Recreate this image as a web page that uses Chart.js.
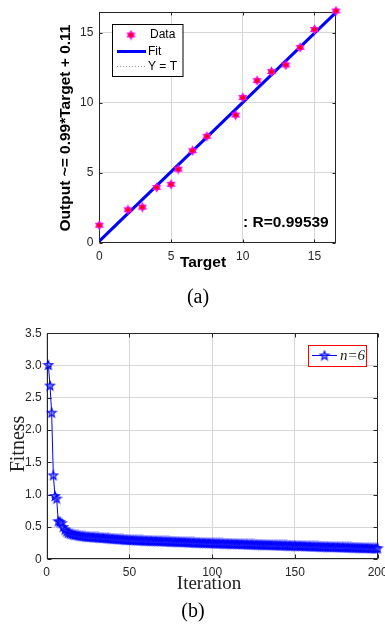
<!DOCTYPE html>
<html><head><meta charset="utf-8">
<script src="https://cdn.jsdelivr.net/npm/chart.js@4"></script>
<style>
html,body{margin:0;padding:0;background:#fff;overflow:hidden;width:385px;height:627px}
#ca{position:absolute;left:0;top:0}
#cb{position:absolute;left:0;top:310px}
</style></head><body>
<canvas id="ca" width="385" height="310"></canvas>
<canvas id="cb" width="420" height="317"></canvas>
<script>
// ---------- data (a) ----------
const targetA = [0, 2, 3, 4, 5, 5.5, 6.5, 7.5, 9.5, 10, 11, 12, 13, 14, 15, 16.5];
const outputA = [1.25, 2.35, 2.54, 3.95, 4.17, 5.25, 6.57, 7.6, 9.12, 10.37, 11.58, 12.22, 12.7, 13.95, 15.23, 16.55];
const fitX = [0, 16.5];
const fitY = [0.11, 16.45];
const identX = [0, 16.5];
const identY = [0, 16.5];
const ticksAX = [0, 5, 10, 15];
const ticksAY = [0, 5, 10, 15];
const legendA = ['Data', 'Fit', 'Y = T'];
const rText = ': R=0.99539';
const yTitleA = 'Output ~= 0.99*Target + 0.11';
const xTitleA = 'Target';

// ---------- data (b) ----------
const fitness = [
3.01,2.69,2.27,1.30,0.98,0.94,0.59,0.58,0.56,0.50,
0.46,0.43,0.41,0.40,0.39,0.385,0.38,0.375,0.37,0.365,
0.36,0.358,0.355,0.352,0.35,0.348,0.346,0.344,0.342,0.340,
0.338,0.336,0.334,0.332,0.330,0.328,0.326,0.324,0.322,0.320,
0.318,0.316,0.314,0.312,0.310,0.308,0.306,0.304,0.302,0.300,
0.299,0.298,0.297,0.296,0.295,0.294,0.293,0.292,0.291,0.290,
0.289,0.288,0.287,0.286,0.285,0.284,0.283,0.282,0.281,0.280,
0.279,0.278,0.277,0.276,0.275,0.274,0.273,0.272,0.271,0.270,
0.269,0.268,0.267,0.266,0.265,0.264,0.263,0.262,0.261,0.260,
0.259,0.258,0.257,0.256,0.255,0.254,0.253,0.252,0.251,0.250,
0.249,0.248,0.247,0.247,0.246,0.245,0.244,0.243,0.243,0.242,
0.241,0.240,0.239,0.239,0.238,0.237,0.236,0.235,0.235,0.234,
0.233,0.232,0.231,0.231,0.230,0.229,0.228,0.227,0.227,0.226,
0.225,0.224,0.223,0.223,0.222,0.221,0.220,0.219,0.219,0.218,
0.217,0.216,0.215,0.215,0.214,0.213,0.212,0.211,0.211,0.210,
0.209,0.208,0.207,0.207,0.206,0.205,0.204,0.203,0.203,0.202,
0.201,0.200,0.199,0.199,0.198,0.197,0.196,0.195,0.195,0.194,
0.193,0.192,0.191,0.191,0.190,0.189,0.188,0.187,0.187,0.186,
0.185,0.184,0.183,0.183,0.182,0.181,0.180,0.179,0.179,0.178,
0.177,0.176,0.175,0.175,0.174,0.173,0.172,0.171,0.171,0.170
];
const ticksBX = [0, 50, 100, 150, 200];
const ticksBY = [0, 0.5, 1, 1.5, 2, 2.5, 3, 3.5];
const legendB = 'n=6';
const xTitleB = 'Iteration';
const yTitleB = 'Fitness';

// ---------- markers ----------
function makeHexMarker(){
  const c = document.createElement('canvas'); c.width = 11; c.height = 11;
  const g = c.getContext('2d'); const cx = 5.5, cy = 5.5, r = 5.2;
  g.fillStyle = '#ff00ff';
  for (const rot of [0, Math.PI]) {
    g.beginPath();
    for (let k = 0; k < 3; k++) {
      const ang = rot - Math.PI/2 + k*2*Math.PI/3;
      const px = cx + r*Math.cos(ang), py = cy + r*Math.sin(ang);
      k ? g.lineTo(px, py) : g.moveTo(px, py);
    }
    g.closePath(); g.fill();
  }
  g.fillStyle = '#ff0000'; g.beginPath(); g.arc(cx, cy, 2.2, 0, 2*Math.PI); g.fill();
  return c;
}
function makePentagram(){
  const c = document.createElement('canvas'); c.width = 12; c.height = 12;
  const g = c.getContext('2d'); const cx = 6, cy = 6.3, R = 4.7, r = 1.9;
  g.beginPath();
  for (let k = 0; k < 10; k++) {
    const ang = -Math.PI/2 + k*Math.PI/5; const rr = k % 2 ? r : R;
    const px = cx + rr*Math.cos(ang), py = cy + rr*Math.sin(ang);
    k ? g.lineTo(px, py) : g.moveTo(px, py);
  }
  g.closePath();
  g.fillStyle = 'rgba(90,90,255,0.55)'; g.fill();
  g.strokeStyle = '#0000ff'; g.lineWidth = 1.1; g.stroke();
  return c;
}
const hexMarker = makeHexMarker();
const pentMarker = makePentagram();

const SANS = "'Liberation Sans', Arial, sans-serif";
const SERIF = "'Liberation Serif', 'Times New Roman', serif";
const GRID = '#d6d6d6';
const AX = '#262626';

function fixScale(w, h){
  return function(s){
    if (w !== null) s.width = w;
    if (h !== null) s.height = h;
    s.paddingLeft = s.paddingRight = s.paddingTop = s.paddingBottom = 0;
  };
}
function setTicks(arr){ return function(s){ s.ticks = arr.map(v => ({value: v})); }; }

function drawBox(chart, tl){
  const {ctx, chartArea: a, scales: {x, y}} = chart;
  ctx.save(); ctx.strokeStyle = AX; ctx.lineWidth = 1;
  const L = Math.round(a.left) + 0.5, R = Math.round(a.right) - 0.5, T = Math.round(a.top) + 0.5, B = Math.round(a.bottom) - 0.5;
  ctx.strokeRect(L, T, R - L, B - T);
  ctx.beginPath();
  x.ticks.forEach(t => { const px = Math.round(x.getPixelForValue(t.value)) + 0.5; ctx.moveTo(px, B); ctx.lineTo(px, B - tl); ctx.moveTo(px, T); ctx.lineTo(px, T + tl); });
  y.ticks.forEach(t => { const py = Math.round(y.getPixelForValue(t.value)) + 0.5; ctx.moveTo(L, py); ctx.lineTo(L + tl, py); ctx.moveTo(R, py); ctx.lineTo(R - tl, py); });
  ctx.stroke(); ctx.restore();
}
function text(ctx, s, x, y, font, align, rot, color){
  ctx.save(); ctx.translate(x, y); if (rot) ctx.rotate(rot);
  ctx.font = font; ctx.fillStyle = color || '#000'; ctx.textAlign = align || 'center'; ctx.textBaseline = 'middle';
  ctx.fillText(s, 0, 0); ctx.restore();
}

// ---------- chart (a) ----------
const plugA = {
  id: 'plugA',
  beforeDatasetsDraw(chart){ drawBox(chart, 3); },
  afterDraw(chart){
    const ctx = chart.ctx; const ds = chart.data.datasets;
    ctx.save();
    ctx.fillStyle = '#fff'; ctx.fillRect(112.5, 24.5, 70.5, 52);
    ctx.strokeStyle = '#000'; ctx.lineWidth = 1; ctx.strokeRect(112.5, 24.5, 70.5, 52);
    ctx.drawImage(hexMarker, 131 - hexMarker.width/2, 35 - hexMarker.height/2);
    ctx.strokeStyle = ds[1].borderColor; ctx.lineWidth = ds[1].borderWidth;
    ctx.beginPath(); ctx.moveTo(117, 51.5); ctx.lineTo(146, 51.5); ctx.stroke();
    ctx.strokeStyle = ds[2].borderColor; ctx.lineWidth = ds[2].borderWidth; ctx.setLineDash(ds[2].borderDash);
    ctx.beginPath(); ctx.moveTo(117, 66.5); ctx.lineTo(146, 66.5); ctx.stroke();
    ctx.restore();
    text(ctx, legendA[0], 150, 35, '12px ' + SANS, 'left');
    text(ctx, legendA[1], 148, 51.5, '12px ' + SANS, 'left');
    text(ctx, legendA[2], 148, 66.5, '12px ' + SANS, 'left');
    text(ctx, rText, 243, 223, 'bold 15.5px ' + SANS, 'left');
    text(ctx, yTitleA, 65.5, 128, 'bold 15.5px ' + SANS, 'center', -Math.PI/2);
    text(ctx, xTitleA, 203, 263, 'bold 15.5px ' + SANS, 'center');
    text(ctx, '(a)', 198, 298, '20px ' + SERIF, 'center');
  }
};

new Chart(document.getElementById('ca'), {
  type: 'scatter',
  data: {
    datasets: [
      { label: legendA[0], data: targetA.map((t, i) => ({x: t, y: outputA[i]})), pointStyle: hexMarker, pointRadius: 5, clip: false, showLine: false },
      { label: legendA[1], type: 'line', data: fitX.map((t, i) => ({x: t, y: fitY[i]})), borderColor: '#0000ff', borderWidth: 3, pointRadius: 0, showLine: true, fill: false },
      { label: legendA[2], type: 'line', data: identX.map((t, i) => ({x: t, y: identY[i]})), borderColor: '#9a9a9a', borderWidth: 1, borderDash: [1, 2], pointRadius: 0, showLine: true, fill: false }
    ]
  },
  options: {
    responsive: false, animation: false, devicePixelRatio: 1,
    layout: { padding: { left: 0, top: 11.7, right: 49, bottom: 0 } },
    plugins: { legend: { display: false }, tooltip: { enabled: false } },
    scales: {
      x: {
        type: 'linear', min: 0, max: 16.5,
        afterFit: fixScale(null, 310 - 242.7), afterBuildTicks: setTicks(ticksAX),
        grid: { color: GRID, drawTicks: false }, border: { display: false },
        ticks: { color: AX, font: { family: SANS, size: 12 }, padding: 7, maxRotation: 0, autoSkip: false }
      },
      y: {
        type: 'linear', min: 0, max: 16.5,
        afterFit: fixScale(99.3, null), afterBuildTicks: setTicks(ticksAY),
        grid: { color: GRID, drawTicks: false }, border: { display: false },
        ticks: { color: AX, font: { family: SANS, size: 12 }, padding: 6 }
      }
    }
  },
  plugins: [plugA]
});

// ---------- chart (b) ----------
const plugB = {
  id: 'plugB',
  beforeDatasetsDraw(chart){ drawBox(chart, 4); },
  afterDraw(chart){
    const ctx = chart.ctx; const ds = chart.data.datasets[0];
    ctx.save();
    ctx.fillStyle = '#fff'; ctx.fillRect(308.5, 35.5, 58, 21);
    ctx.strokeStyle = '#ff0000'; ctx.lineWidth = 1; ctx.strokeRect(308.5, 35.5, 58, 21);
    ctx.strokeStyle = ds.borderColor; ctx.lineWidth = ds.borderWidth;
    ctx.beginPath(); ctx.moveTo(312, 45.5); ctx.lineTo(337, 45.5); ctx.stroke();
    ctx.drawImage(pentMarker, 324.5 - pentMarker.width/2, 45.5 - pentMarker.height/2);
    ctx.restore();
    text(ctx, legendB, 340, 46, 'italic 15px ' + SERIF, 'left', 0, '#222');
    text(ctx, yTitleB, 18.5, 134, '20px ' + SERIF, 'center', -Math.PI/2, '#222');
    text(ctx, xTitleB, 209, 274, '19px ' + SERIF, 'center', 0, '#222');
    text(ctx, '(b)', 193, 302, '20px ' + SERIF, 'center');
  }
};

new Chart(document.getElementById('cb'), {
  type: 'line',
  data: {
    datasets: [
      { label: legendB, data: fitness.map((v, i) => ({x: i + 1, y: v})), borderColor: '#0000ff', borderWidth: 1,
        pointStyle: pentMarker, pointRadius: 4, clip: false, fill: false, tension: 0 }
    ]
  },
  options: {
    responsive: false, animation: false, devicePixelRatio: 1,
    layout: { padding: { left: 0, top: 23.3, right: 42.3, bottom: 0 } },
    plugins: { legend: { display: false }, tooltip: { enabled: false } },
    scales: {
      x: {
        type: 'linear', min: 0, max: 200,
        afterFit: fixScale(null, 317 - 249.3), afterBuildTicks: setTicks(ticksBX),
        grid: { color: GRID, drawTicks: false }, border: { display: false },
        ticks: { color: AX, font: { family: SANS, size: 12 }, padding: 6, maxRotation: 0, autoSkip: false }
      },
      y: {
        type: 'linear', min: 0, max: 3.5,
        afterFit: fixScale(46.7, null), afterBuildTicks: setTicks(ticksBY),
        grid: { color: GRID, drawTicks: false }, border: { display: false },
        ticks: { color: AX, font: { family: SANS, size: 12 }, padding: 5 }
      }
    }
  },
  plugins: [plugB]
});
</script>
</body></html>
